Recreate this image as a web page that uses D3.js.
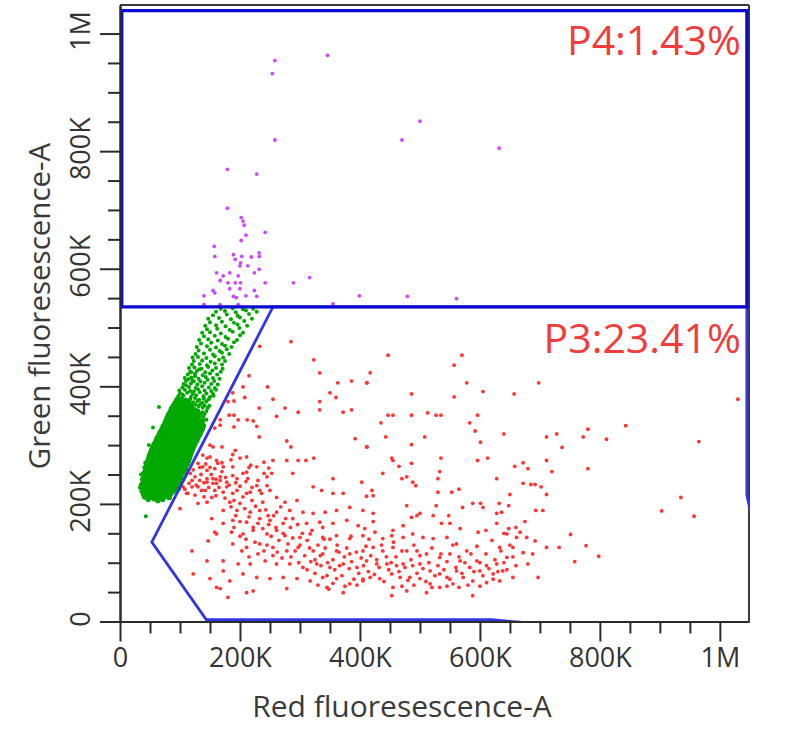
<!DOCTYPE html>
<html><head><meta charset="utf-8">
<script src="https://cdn.jsdelivr.net/npm/d3@7"></script>
<style>body{margin:0;background:#fff}svg{display:block}</style>
</head><body>
<svg id="chart" width="801" height="739"></svg>
<script>
// ---- data (values in thousands) ----
const axisMaxK = 1048.576;
const xTickValues = [0, 200, 400, 600, 800, 1000];
const xTickLabels = ["0", "200K", "400K", "600K", "800K", "1M"];
const yTickValues = [0, 200, 400, 600, 800, 1000];
const yTickLabels = ["0", "200K", "400K", "600K", "800K", "1M"];
const minorTickValues = [50,100,150,250,300,350,450,500,550,650,700,750,850,900,950];
const xTitle = "Red fluoresescence-A";
const yTitle = "Green fluoresescence-A";
const gateNames = ["P4:1.43%", "P3:23.41%"];
const gateP4 = [[3,535],[1045,535],[1045,1039],[3,1039]];
const gateP3 = [[255,535],[1045,535],[1045,215],[1100,-40],[620,3],[144,3],[53,135]];

const purplePts = [[258,954],[254,932],[346,963],[258,819],[179,769],[228,761],[179,703],[202,687],[205,681],[207,674],[210,657],[242,662],[202,648],[157,638],[158,621],[189,624],[203,621],[219,620],[232,627],[232,621],[192,616],[201,610],[200,605],[213,605],[232,599],[161,593],[172,588],[183,593],[197,588],[224,593],[167,580],[180,576],[192,576],[201,576],[242,576],[289,576],[316,585],[155,563],[158,559],[183,566],[200,566],[224,563],[140,554],[189,553],[194,551],[210,554],[228,553],[399,554],[140,539],[167,539],[197,539],[355,540],[500,851],[470,819],[632,805],[479,553],[561,549]];

// dense core of the green population
const greenCorePts = [[47,208],[56,209],[63,206],[71,208],
[41,212],[49,213],[58,211],[66,213],[74,212],[82,211],
[39,217],[46,218],[54,216],[62,218],[69,217],[77,216],[85,218],
[37,222],[44,223],[52,221],[59,223],[66,222],[74,221],[82,223],[90,222],
[38,227],[45,228],[53,226],[60,228],[68,227],[75,226],[83,228],[91,227],[97,226],
[36,232],[43,233],[51,231],[58,233],[66,232],[73,231],[81,233],[88,232],[96,231],
[39,237],[47,238],[54,236],[61,238],[69,237],[76,236],[84,238],[91,237],[99,236],
[38,242],[45,243],[53,241],[60,243],[68,242],[75,241],[83,243],[90,242],[98,241],[104,243],
[41,247],[48,248],[56,246],[63,248],[71,247],[78,246],[86,248],[93,247],[101,246],
[40,252],[47,253],[55,251],[62,253],[70,252],[77,251],[85,253],[92,252],[100,251],[107,253],
[43,257],[50,258],[58,256],[65,258],[73,257],[80,256],[88,258],[95,257],[103,256],[110,258],
[42,262],[49,263],[57,261],[64,263],[72,262],[79,261],[87,263],[94,262],[102,261],[109,263],
[45,267],[52,268],[60,266],[67,268],[75,267],[82,266],[90,268],[97,267],[105,266],[112,268],
[46,272],[53,273],[61,271],[68,273],[76,272],[83,271],[91,273],[98,272],[106,271],[114,273],
[48,277],[55,278],[63,276],[70,278],[78,277],[85,276],[93,278],[100,277],[108,276],[116,278],
[49,282],[56,283],[64,281],[71,283],[79,282],[86,281],[94,283],[101,282],[109,281],[117,283],
[51,287],[58,288],[66,286],[73,288],[81,287],[88,286],[96,288],[103,287],[111,286],[119,288],
[53,292],[60,293],[68,291],[75,293],[83,292],[90,291],[98,293],[105,292],[113,291],[121,293],
[55,297],[62,298],[70,296],[77,298],[85,297],[92,296],[100,298],[107,297],[115,296],[123,298],
[57,302],[64,303],[72,301],[79,303],[87,302],[94,301],[102,303],[109,302],[117,301],[125,303],
[60,307],[67,308],[75,306],[82,308],[90,307],[97,306],[105,308],[112,307],[120,306],[128,308],
[62,312],[69,313],[77,311],[84,313],[92,312],[99,311],[107,313],[114,312],[122,311],[130,313],
[65,317],[72,318],[80,316],[87,318],[95,317],[102,316],[110,318],[117,317],[125,316],[133,318],
[67,322],[74,323],[82,321],[89,323],[97,322],[104,321],[112,323],[119,322],[127,321],[135,323],
[70,327],[77,328],[85,326],[92,328],[100,327],[107,326],[115,328],[122,327],[130,326],[137,328],
[72,332],[79,333],[87,331],[94,333],[102,332],[109,331],[117,333],[124,332],[132,331],[139,333],
[75,337],[82,338],[90,336],[97,338],[105,337],[112,336],[120,338],[127,337],[135,336],
[77,342],[84,343],[92,341],[99,343],[107,342],[114,341],[122,343],[129,342],[137,341],
[79,347],[86,348],[94,346],[101,348],[109,347],[116,346],[124,348],[131,347],
[81,352],[88,353],[96,351],[103,353],[111,352],[118,351],[126,353],[133,352],
[84,357],[91,358],[99,356],[106,358],[114,357],[121,356],[129,358],
[86,362],[93,363],[101,361],[108,363],[116,362],[123,361],
[89,367],[96,368],[104,366],[111,368],[119,367],
[92,372],[99,373],[107,371],[114,373],
[95,377],[102,378],[110,376]];

// looser upper part and outliers of the green population
const greenSparsePts = [[144,343],[139,348],[141,353],[137,356],[144,358],[131,366],[138,364],[146,363],[126,369],[134,370],[141,368],[149,367],
[122,373],[129,375],[137,372],[144,374],[117,378],[125,380],[132,377],[140,379],[148,378],
[97,383],[106,384],[118,382],[127,385],[139,383],[150,382],[156,384],
[100,388],[112,389],[121,387],[133,390],[144,388],[155,387],[104,386],
[99,393],[108,394],[117,392],[130,395],[141,393],[152,392],[160,394],[123,391],
[104,398],[115,399],[126,397],[137,400],[148,398],[158,397],[110,402],
[106,404],[118,405],[129,403],[141,406],[152,404],[163,403],[123,408],
[110,409],[121,410],[134,408],[146,411],[157,409],[114,412],
[108,414],[119,415],[131,413],[143,416],[155,414],[166,413],[125,417],
[113,420],[125,421],[138,419],[150,422],[162,420],[119,424],
[117,425],[128,426],[142,424],[154,427],[168,425],[132,429],
[115,431],[124,432],[136,430],[147,433],[160,431],[171,430],
[120,437],[133,438],[145,436],[158,439],[170,437],
[123,443],[137,444],[151,442],[165,445],[175,443],
[121,449],[130,450],[144,448],[158,451],[172,449],
[126,455],[140,456],[155,454],[170,457],[182,455],
[131,461],[150,462],[166,460],[178,463],
[128,467],[145,468],[160,466],[175,469],[186,467],
[135,473],[152,474],[170,472],[190,475],
[132,479],[147,480],[163,478],[180,481],[195,479],
[140,485],[158,486],[176,484],[200,487],
[137,491],[150,492],[168,490],[188,493],[205,491],
[145,497],[162,498],[183,496],[199,499],
[142,503],[160,504],[176,502],[196,505],[212,503],
[150,509],[170,510],[190,508],[207,511],
[147,515],[165,516],[185,514],[200,517],[220,515],
[155,521],[178,522],[196,520],[215,523],
[160,527],[175,528],[193,526],[210,529],[228,527],
[168,532],[188,533],[205,531],[222,532],
[65,365],[55,330],[48,300],[42,270],[35,250],[33,228],[43,179]];

const redPts = [[285,476],[323,445],[333,423],[215,418],[386,409],[363,406],[411,406],[246,399],[205,399],[350,389],[360,381],[255,378],[333,374],[190,375],[232,363],[275,363],[297,356],[333,360],[372,356],[386,360],[182,351],[190,351],[167,343],[212,343],[228,332],[158,329],[190,331],[232,314],[278,307],[285,297],[392,311],[411,297],[150,300],[170,297],[188,284],[200,278],[218,266],[240,271],[278,274],[297,274],[310,274],[323,278],[248,261],[253,252],[288,252],[355,243],[403,237],[138,283],[150,280],[161,274],[130,269],[138,263],[158,260],[172,263],[188,263],[117,252],[125,246],[133,240],[145,243],[155,243],[167,240],[178,237],[195,243],[213,243],[228,231],[245,231],[130,229],[142,223],[158,223],[172,220],[188,218],[211,218],[236,218],[250,223],[105,229],[113,218],[153,211],[145,203],[183,203],[200,201],[220,206],[238,203],[261,211],[275,203],[295,206],[322,229],[336,223],[355,218],[372,218],[100,192],[130,201],[172,189],[195,189],[217,186],[233,189],[247,180],[261,186],[283,189],[305,186],[322,184],[342,186],[361,189],[383,194],[405,189],[153,175],[172,167],[188,172],[211,169],[230,167],[250,172],[272,167],[288,175],[311,167],[333,169],[355,167],[378,172],[397,163],[161,149],[186,152],[205,149],[222,155],[245,149],[261,155],[275,146],[300,143],[317,149],[338,143],[361,146],[383,141],[405,146],[120,120],[147,137],[188,132],[211,126],[233,132],[255,126],[278,120],[297,126],[322,120],[338,115],[361,120],[383,115],[405,120],[145,103],[172,103],[197,98],[217,98],[242,103],[261,98],[283,98],[305,92],[328,98],[350,92],[372,98],[395,92],[122,81],[150,73],[172,86],[183,69],[205,81],[228,75],[250,73],[272,75],[295,73],[317,69],[338,75],[361,73],[383,64],[405,69],[167,56],[222,52],[278,56],[345,58],[372,49],
[447,453],[570,453],[557,436],[417,423],[412,406],[578,406],[698,406],[486,387],[605,391],[657,387],[557,382],[447,351],[455,351],[486,351],[513,355],[527,351],[535,351],[596,351],[435,338],[583,338],[592,324],[640,319],[443,314],[508,314],[711,314],[728,319],[601,305],[412,297],[486,301],[535,278],[596,274],[613,278],[453,278],[455,274],[465,264],[486,269],[533,255],[658,264],[672,270],[680,260],[711,274],[720,255],[438,252],[470,243],[478,246],[488,237],[493,231],[530,243],[628,243],[420,223],[411,213],[422,214],[530,220],[553,220],[565,225],[650,216],[672,235],[685,233],[692,233],[702,229],[711,216],[478,197],[527,197],[588,201],[601,201],[605,194],[632,201],[648,197],[571,194],[500,184],[495,180],[522,180],[548,180],[628,184],[636,186],[693,189],[705,189],[675,170],[422,184],[422,170],[472,163],[486,177],[455,155],[536,167],[550,167],[567,158],[597,152],[610,155],[628,167],[648,158],[667,152],[692,137],[711,126],[732,126],[688,115],[697,75],[680,98],[672,117],[661,143],[678,143],[645,149],[655,126],[633,126],[645,109],[628,98],[611,95],[595,103],[578,120],[561,132],[545,143],[522,141],[505,143],[488,149],[472,143],[453,146],[438,141],[425,152],[408,158],[422,126],[438,120],[455,126],[478,120],[495,120],[511,115],[533,109],[550,115],[567,103],[583,92],[600,86],[622,81],[638,86],[655,75],[411,103],[428,98],[445,98],[461,95],[472,98],[488,95],[500,98],[517,86],[533,81],[545,75],[561,86],[572,75],[588,69],[611,66],[633,69],[417,75],[433,73],[453,81],[467,75],[483,75],[500,73],[517,64],[533,58],[555,64],[455,58],[478,52],[511,49],[588,44],[453,44],
[737,296],[772,314],[780,327],[811,310],[843,333],[965,306],[1030,378],[780,260],[751,148],[777,129],[798,111],[758,102],[903,188],[935,211],[957,179],
[161,58],[180,41],[211,49],[158,152],[145,257],[155,235],[167,246],
[233,468],[208,381],[188,389],[180,374],[261,349],[222,341],[197,343],[167,334],[155,297],[192,291],[211,280],[145,278],[163,269],[211,254],[255,274],[228,263],[245,246],[145,237],[161,235],[178,229],[195,223],[217,220],[233,223],[120,229],[136,223],[111,218],
[120,240],[127,232],[135,250],[140,236],[148,228],[152,250],[160,242],[165,228],[170,255],[176,245],[182,232],[188,248],[193,236],[200,230],[205,252],[210,238],[122,258],[133,262],[143,268],[150,262],[170,270],[185,275],[115,235],[108,225],[125,215],[140,212],[160,214],[175,210],[190,206],[205,212],[220,228],[230,240],[240,252],[215,262],
[185,195],[193,180],[200,170],[208,192],[215,178],[222,160],[226,196],[233,175],[238,158],[243,190],[248,165],[252,145],[256,180],[260,160],[265,138],[268,195],[272,150],[276,175],[280,132],[284,160],[288,142],[292,120],[296,165],[300,130],[304,150],[308,112],[312,138],[316,125],[320,155],[325,105],[330,130],[334,112],[338,160],[342,125],[346,100],[350,140],[190,160],[200,145],[210,140],[225,135],[240,120],[255,112],[203,120],[215,110],[230,115],[245,130],[262,118],[270,108],[285,110],[298,100],
[355,105],[358,88],[362,130],[366,95],[370,78],[374,110],[378,125],[382,90],[386,102],[390,72],[394,118],[398,82],[402,108],[406,95],[410,128],[414,85],[418,112],[424,80],[428,105],[432,92],[436,130],[440,68],[444,110],[448,88],[452,100],[456,135],[325,82],[335,95],[345,78],[355,65],[365,118],[375,60],[385,145],[395,62],[405,72],[415,140],[312,88],[318,102],[330,62],[340,140],[348,55],
[460,110],[465,85],[470,120],[475,92],[480,70],[485,105],[490,130],[495,82],[500,112],[505,90],[510,68],[515,100],[520,125],[525,78],[530,95],[535,115],[540,88],[545,102],[550,72],[555,130],[560,92],[565,110],[570,82],[575,100],[580,62],[585,115],[590,85],[595,128],[600,100],[605,78],[610,115],[615,90],[620,138],[625,105],[630,85],[635,120],[640,100],[645,88],[650,130],[655,110],[660,95],[470,60],[490,62],[520,58],[545,60],[565,58],[600,60],[622,72],[640,150],[660,160]];

// ---- drawing ----
const svg = d3.select("#chart");
const L = 120, R = 749, T = 5, B = 621.5;
const x = d3.scaleLinear().domain([0, axisMaxK]).range([L, R]);
const y = d3.scaleLinear().domain([0, axisMaxK]).range([B, T]);
const font = "'Open Sans','Noto Sans',sans-serif";

svg.append("defs").append("clipPath").attr("id","plotclip")
  .append("rect").attr("x", L - 1).attr("y", T).attr("width", R - L + 2).attr("height", B - T);

const pts = svg.append("g").attr("clip-path","url(#plotclip)");
function drawPts(data, color, r) {
  pts.append("g").selectAll("circle").data(data).join("circle")
    .attr("cx", d => x(d[0])).attr("cy", d => y(d[1])).attr("r", r)
    .attr("fill", color);
}
drawPts(redPts, "#ff3434", 1.9);
drawPts(greenCorePts, "#00a800", 2.8);
drawPts(greenSparsePts, "#00a800", 2.0);
drawPts(purplePts, "#cc48ff", 1.9);

// frame
svg.append("line").attr("x1", L).attr("x2", R).attr("y1", T).attr("y2", T)
  .attr("stroke", "#3a3a3a").attr("stroke-width", 2);
svg.append("line").attr("x1", R).attr("x2", R).attr("y1", T).attr("y2", B)
  .attr("stroke", "#3a3a3a").attr("stroke-width", 2);

// gates
const gates = svg.append("g").attr("clip-path","url(#plotclip)");
const line = d3.line().x(d => x(d[0])).y(d => y(d[1]));
gates.append("path").attr("d", line(gateP3) + "Z").attr("fill", "none")
  .attr("stroke", "#3434e6").attr("stroke-width", 2.8).attr("stroke-linejoin", "miter");
gates.append("path").attr("d", line(gateP4) + "Z").attr("fill", "none")
  .attr("stroke", "#0a0ad2").attr("stroke-width", 3.2);

// axes
function styleAxis(g) {
  g.selectAll("path.domain").attr("stroke", "#2b2b2b").attr("stroke-width", 2);
  g.selectAll(".tick line").attr("stroke", "#2b2b2b").attr("stroke-width", 2);
}
const gxMinor = svg.append("g").attr("transform", `translate(0,${B})`)
  .call(d3.axisBottom(x).tickValues(minorTickValues).tickSize(12).tickSizeOuter(0).tickFormat(""));
const gx = svg.append("g").attr("transform", `translate(0,${B})`)
  .call(d3.axisBottom(x).tickValues(xTickValues).tickSize(20).tickSizeOuter(0)
    .tickFormat((d, i) => xTickLabels[i]));
const gyMinor = svg.append("g").attr("transform", `translate(${L},0)`)
  .call(d3.axisLeft(y).tickValues(minorTickValues).tickSize(12).tickSizeOuter(0).tickFormat(""));
const gy = svg.append("g").attr("transform", `translate(${L},0)`)
  .call(d3.axisLeft(y).tickValues(yTickValues).tickSize(20).tickSizeOuter(0)
    .tickFormat((d, i) => yTickLabels[i]));
[gxMinor, gx, gyMinor, gy].forEach(styleAxis);
gx.selectAll(".tick text").attr("y", 45).attr("dy", null)
  .attr("font-family", font).attr("font-size", 27).attr("fill", "#333");
gy.selectAll(".tick text").attr("x", null).attr("dy", null)
  .attr("transform", "translate(-30,-3) rotate(-90)").attr("text-anchor", "middle")
  .attr("font-family", font).attr("font-size", 27).attr("fill", "#333");

// gate labels
svg.append("text").attr("x", x(1035)).attr("y", y(963)).attr("text-anchor", "end")
  .attr("font-family", font).attr("font-size", 41).attr("fill", "#f23c3c").text(gateNames[0]);
svg.append("text").attr("x", x(1035)).attr("y", y(457)).attr("text-anchor", "end")
  .attr("font-family", font).attr("font-size", 41).attr("fill", "#f23c3c").text(gateNames[1]);

// titles
svg.append("text").attr("x", 402).attr("y", 717).attr("text-anchor", "middle")
  .attr("font-family", font).attr("font-size", 30).attr("fill", "#3a3a3a").text(xTitle);
svg.append("text").attr("transform", "translate(50,306) rotate(-90)").attr("text-anchor", "middle")
  .attr("font-family", font).attr("font-size", 29.5).attr("fill", "#3a3a3a").text(yTitle);
</script>
</body></html>
